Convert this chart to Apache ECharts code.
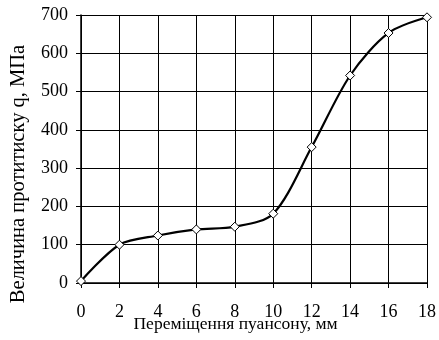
<!DOCTYPE html>
<html><head><meta charset="utf-8">
<script src="https://cdn.jsdelivr.net/npm/echarts@6/dist/echarts.min.js"></script>
<style>html,body{margin:0;padding:0;background:#fff}#c{width:439px;height:340px}</style>
</head><body><div id="c"></div>
<script>
var xValues = [0, 2, 4, 6, 8, 10, 12, 14, 16, 18];
var qValues = [5, 100, 124, 140, 147, 181, 355, 542, 653, 694];
var xTicks = [0, 2, 4, 6, 8, 10, 12, 14, 16, 18];
var yTicks = [0, 100, 200, 300, 400, 500, 600, 700];
var xName = 'Переміщення пуансону, мм';
var yName = 'Величина протитиску q, МПа';

var chart = echarts.init(document.getElementById('c'), null, {renderer: 'canvas'});
var font = 'Liberation Serif';
chart.setOption({
  animation: false,
  backgroundColor: '#fff',
  grid: {left: 81, top: 15, width: 346, height: 268, containLabel: false, outerBoundsMode: 'none'},
  xAxis: {
    type: 'value', min: 0, max: 18, interval: 2,
    name: xName, nameLocation: 'middle', nameGap: 32, nameMoveOverlap: false,
    nameTextStyle: {fontFamily: font, fontSize: 17.5, color: '#000', padding: [0, 37, 0, 0]},
    axisLine: {show: true, lineStyle: {color: '#000', width: 1.5}},
    axisTick: {show: true, length: 5, lineStyle: {color: '#000'}},
    axisLabel: {fontFamily: font, fontSize: 18, color: '#000', margin: 20},
    splitLine: {show: true, lineStyle: {color: '#000', width: 1}}
  },
  yAxis: {
    type: 'value', min: 0, max: 700, interval: 100,
    name: yName, nameLocation: 'middle', nameGap: 52, nameRotate: 90, nameMoveOverlap: false,
    nameTextStyle: {fontFamily: font, fontSize: 20.5, color: '#000', padding: [0, 50, 0, 0]},
    axisLine: {show: true, lineStyle: {color: '#000', width: 1.5}},
    axisTick: {show: true, length: 5, lineStyle: {color: '#000'}},
    axisLabel: {fontFamily: font, fontSize: 18, color: '#000', margin: 13},
    splitLine: {show: true, lineStyle: {color: '#000', width: 1}}
  },
  series: [{
    type: 'line',
    data: xValues.map(function(x, i){ return [x, qValues[i]]; }),
    smooth: 0.3,
    symbol: 'diamond', symbolSize: 9,
    itemStyle: {color: '#fff', borderColor: '#000', borderWidth: 1},
    lineStyle: {color: '#000', width: 2.2},
    z: 5
  }]
});
</script></body></html>
